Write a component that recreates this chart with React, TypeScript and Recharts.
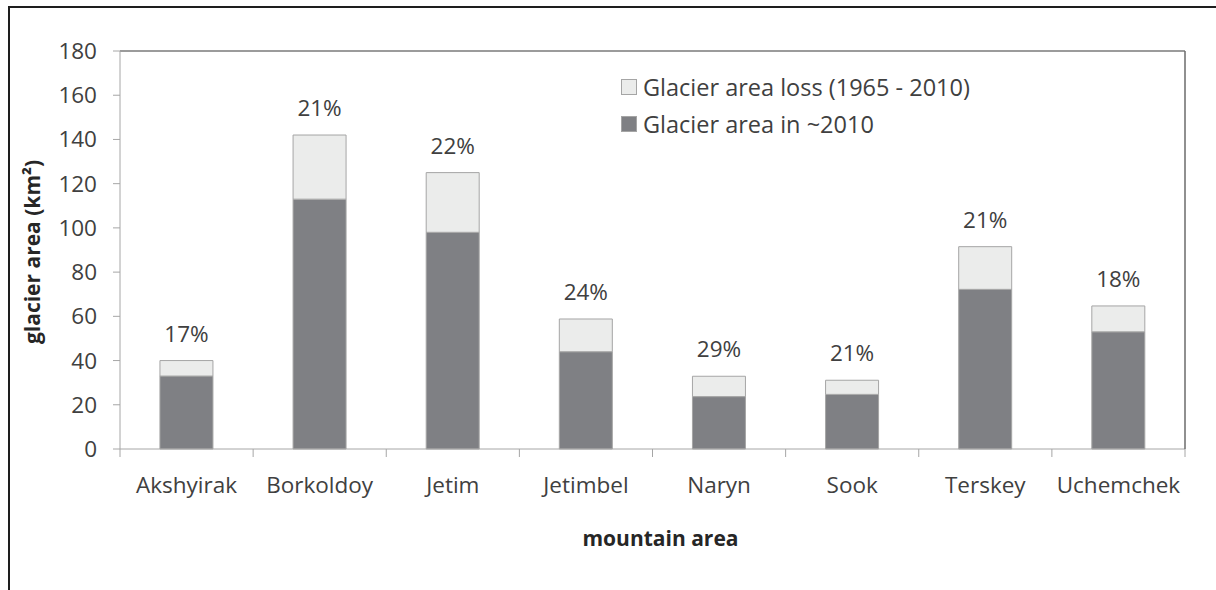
import { BarChart, Bar, XAxis, YAxis, Legend, LabelList, ReferenceLine, Label } from 'recharts';

// values (km²)
const categories = ['Akshyirak', 'Borkoldoy', 'Jetim', 'Jetimbel', 'Naryn', 'Sook', 'Terskey', 'Uchemchek'];
const area2010 = [33, 113, 98, 44, 23.7, 24.7, 72.2, 53];
const areaLoss = [7, 29, 27, 14.8, 9.2, 6.4, 19.3, 11.7];
const lossPct = ['17%', '21%', '22%', '24%', '29%', '21%', '21%', '18%'];
const yTicks = [0, 20, 40, 60, 80, 100, 120, 140, 160, 180];

const data = categories.map((name, i) => ({
  name,
  area2010: area2010[i],
  loss: areaLoss[i],
  pct: lossPct[i],
}));

const FONT = '"Open Sans", sans-serif';
const TEXT = '#404040';
const AXIS = '#a6a6a6';
const X_TICK_LEN = 8;
const X_TICK_GAP = 28;

// Excel style: tick marks sit between the categories, not under them
function CategoryTick(props: any) {
  const { x, y, payload, index, width } = props;
  const half = payload?.offset || width / categories.length / 2;
  const top = y - X_TICK_GAP;
  return (
    <g>
      <line x1={x - half} x2={x - half} y1={top} y2={top + X_TICK_LEN} stroke={AXIS} />
      {index === categories.length - 1 && (
        <line x1={x + half} x2={x + half} y1={top} y2={top + X_TICK_LEN} stroke={AXIS} />
      )}
      <text x={x} y={y} dy="0.71em" textAnchor="middle" fill={TEXT} fontSize={22.5} fontFamily={FONT}>
        {payload.value}
      </text>
    </g>
  );
}

function LegendBox(props: any) {
  const items = [...(props.payload || [])].reverse();
  return (
    <div style={{ fontFamily: FONT, fontSize: 23.5, color: TEXT }}>
      {items.map((item: any) => (
        <div key={item.value} style={{ display: 'flex', alignItems: 'center', height: 37 }}>
          <span
            style={{
              width: 14,
              height: 14,
              background: item.color,
              border: '1px solid #a5a5a5',
              marginRight: 6,
            }}
          />
          <span>{item.value}</span>
        </div>
      ))}
    </div>
  );
}

export default function App() {
  return (
    <div style={{ position: 'absolute', left: 0, top: 0, width: 1216, height: 590, background: '#fff' }}>
      {/* outer frame (top and left edges only are visible) */}
      <div style={{ position: 'absolute', left: 8, top: 6, width: 1208, height: 584, borderTop: '2px solid #1e1e1e', borderLeft: '2px solid #1e1e1e' }} />
      <BarChart
        width={1216}
        height={590}
        data={data}
        margin={{ top: 51, right: 30, left: 10, bottom: 81 }}
        barCategoryGap="30%"
        style={{ position: 'absolute', left: 0, top: 0 }}
      >
        <XAxis
          dataKey="name"
          height={60}
          axisLine={{ stroke: AXIS }}
          tickLine={false}
          tickSize={X_TICK_LEN}
          tickMargin={X_TICK_GAP - X_TICK_LEN}
          tick={<CategoryTick />}
          interval={0}
        >
          <Label
            content={({ viewBox }: any) => (
              <text
                x={viewBox.x + viewBox.width / 2 + 8}
                y={viewBox.y + 97}
                textAnchor="middle"
                fontFamily={FONT}
                fontSize={21}
                fontWeight="bold"
                fill="#262626"
              >
                mountain area
              </text>
            )}
          />
        </XAxis>
        <YAxis
          width={110}
          domain={[0, 180]}
          ticks={yTicks}
          interval={0}
          axisLine={{ stroke: AXIS }}
          tickLine={{ stroke: AXIS }}
          tickSize={7}
          tickMargin={16}
          tick={{ fill: TEXT, fontSize: 22.5, fontFamily: FONT }}
        >
          <Label
            content={({ viewBox }: any) => {
              const cx = viewBox.x + 22;
              const cy = viewBox.y + viewBox.height / 2 + 2;
              return (
                <text
                  x={cx}
                  y={cy}
                  transform={`rotate(-90 ${cx} ${cy})`}
                  textAnchor="middle"
                  dominantBaseline="central"
                  fontFamily={FONT}
                  fontSize={21}
                  fontWeight="bold"
                  fill="#262626"
                >
                  glacier area (km²)
                </text>
              );
            }}
          />
        </YAxis>
        <YAxis
          yAxisId="right"
          orientation="right"
          width={1}
          domain={[0, 1]}
          tick={false}
          tickLine={false}
          axisLine={{ stroke: '#6b6b6b', strokeWidth: 1.5 }}
        />
        <ReferenceLine y={180} stroke="#7a7a7a" strokeWidth={1.5} />
        <Legend
          layout="vertical"
          align="center"
          verticalAlign="middle"
          wrapperStyle={{ left: 621, top: 68, width: 420 }}
          content={<LegendBox />}
        />
        <Bar
          dataKey="area2010"
          name="Glacier area in ~2010"
          stackId="a"
          fill="#7f8084"
          stroke="#a5a5a5"
          strokeWidth={1}
          isAnimationActive={false}
        />
        <Bar
          dataKey="loss"
          name="Glacier area loss (1965 - 2010)"
          stackId="a"
          fill="#ebeceb"
          stroke="#a5a5a5"
          strokeWidth={1}
          isAnimationActive={false}
        >
          <LabelList
            dataKey="pct"
            content={(p: any) => (
              <text
                x={p.x + p.width / 2}
                y={p.y - 19}
                textAnchor="middle"
                fill={TEXT}
                fontSize={22.5}
                fontFamily={FONT}
              >
                {p.value}
              </text>
            )}
          />
        </Bar>
      </BarChart>
    </div>
  );
}
